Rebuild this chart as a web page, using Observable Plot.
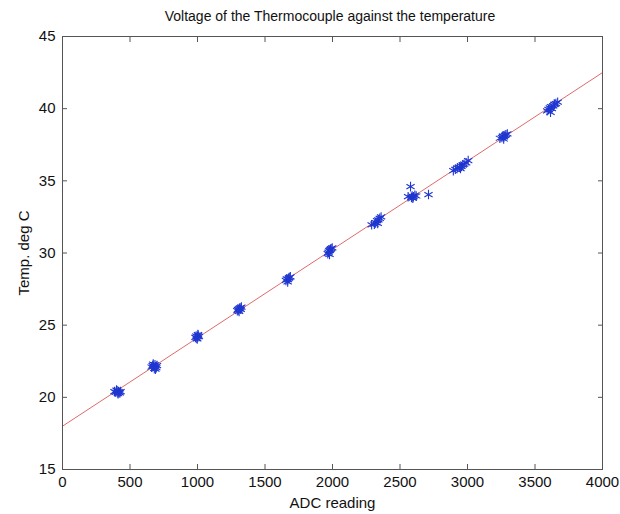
<!DOCTYPE html>
<html>
<head>
<meta charset="utf-8">
<script src="https://cdn.jsdelivr.net/npm/d3@7"></script>
<script src="https://cdn.jsdelivr.net/npm/@observablehq/plot@0.6"></script>
<style>
  body { margin: 0; background: #fff; font-family: "Liberation Sans", Arial, sans-serif; }
  #title { position: relative; z-index: 1; width: 620px; height: 32px; line-height: 32px; text-align: center; font-size: 14px; color: #111; padding-left: 40px; box-sizing: border-box; }
  #chart { margin-top: -20px; }
  #chart svg { display: block; }
</style>
</head>
<body>
<div id="title">Voltage of the Thermocouple against the temperature</div>
<div id="chart"></div>
<script>
const adc = [
  385, 395, 405, 410, 415, 420, 425, 430, 400, 412,
  660, 668, 675, 680, 685, 690, 695, 700, 672, 688,
  985, 990, 995, 1000, 1005, 1010, 998, 1003,
  1295, 1300, 1305, 1310, 1315, 1320, 1325, 1308,
  1655, 1662, 1670, 1675, 1680, 1688, 1668,
  1965, 1970, 1975, 1980, 1985, 1990, 1998, 1978,
  2290, 2310, 2320, 2330, 2340, 2350, 2360, 2335,
  2560, 2585, 2590, 2595, 2600, 2610, 2620, 2578, 2711,
  2895, 2910, 2925, 2940, 2955, 2965, 2975, 2990, 3005, 2948,
  3240, 3255, 3262, 3270, 3278, 3285, 3295, 3268,
  3590, 3600, 3610, 3618, 3625, 3635, 3645, 3655, 3668, 3615
];
const temp = [
  20.40, 20.35, 20.45, 20.30, 20.40, 20.35, 20.30, 20.40, 20.50, 20.25,
  22.10, 22.20, 22.15, 22.00, 22.25, 22.10, 22.05, 22.20, 22.30, 21.95,
  24.15, 24.25, 24.10, 24.20, 24.30, 24.20, 24.05, 24.35,
  26.00, 26.10, 26.05, 26.15, 26.20, 26.10, 26.25, 25.95,
  28.10, 28.20, 28.15, 28.25, 28.30, 28.35, 28.00,
  29.95, 30.05, 30.15, 30.20, 30.25, 30.30, 30.35, 29.90,
  31.95, 32.00, 32.10, 32.25, 32.30, 32.40, 32.50, 32.05,
  33.90, 33.85, 33.95, 33.80, 33.90, 34.00, 33.95, 34.60, 34.05,
  35.70, 35.80, 35.90, 35.95, 36.00, 36.10, 36.15, 36.25, 36.40, 35.85,
  37.95, 38.00, 38.10, 38.05, 38.15, 38.20, 38.25, 37.90,
  39.85, 39.95, 40.05, 40.15, 40.00, 40.20, 40.30, 40.35, 40.45, 39.75
];
// Fitted line end points
const fitX = [0, 4000];
const fitY = [18.0, 42.5];
// Axis ticks
const xTicks = [0, 500, 1000, 1500, 2000, 2500, 3000, 3500, 4000];
const yTicks = [15, 20, 25, 30, 35, 40, 45];

const points = adc.map((x, i) => ({x, y: temp[i]}));
const fit = fitX.map((x, i) => ({x, y: fitY[i]}));

const chart = Plot.plot({
  width: 620,
  height: 502,
  marginLeft: 62,
  marginRight: 18,
  marginTop: 24,
  marginBottom: 45,
  style: {fontFamily: "Liberation Sans, Arial, sans-serif", fontSize: "14px", color: "#111", background: "transparent"},
  x: {domain: [0, 4000]},
  y: {domain: [15, 45]},
  marks: [
    Plot.line(fit, {x: "x", y: "y", stroke: "#e06a6a", strokeWidth: 1}),
    Plot.dot(points, {x: "x", y: "y", symbol: "asterisk", r: 4.5, stroke: "#1f36d0", strokeWidth: 1.1}),
    Plot.frame({stroke: "#555", strokeWidth: 1}),
    Plot.axisX(xTicks, {anchor: "bottom", tickSize: -5, tickPadding: 12, tickFormat: d3.format("d"), label: "ADC reading", labelAnchor: "center", labelArrow: "none", labelOffset: 38, stroke: "#555", fill: "#111", fontSize: 15}),
    Plot.axisX(xTicks, {anchor: "top", tickSize: -5, tickFormat: () => "", label: null, stroke: "#555"}),
    Plot.axisY(yTicks, {anchor: "left", tickSize: -5, tickPadding: 12, tickFormat: d3.format("d"), label: "Temp. deg C", labelAnchor: "center", labelArrow: "none", labelOffset: 44, stroke: "#555", fill: "#111", fontSize: 15}),
    Plot.axisY(yTicks, {anchor: "right", tickSize: -5, tickFormat: () => "", label: null, stroke: "#555"})
  ]
});
document.getElementById("chart").appendChild(chart);
</script>
</body>
</html>
